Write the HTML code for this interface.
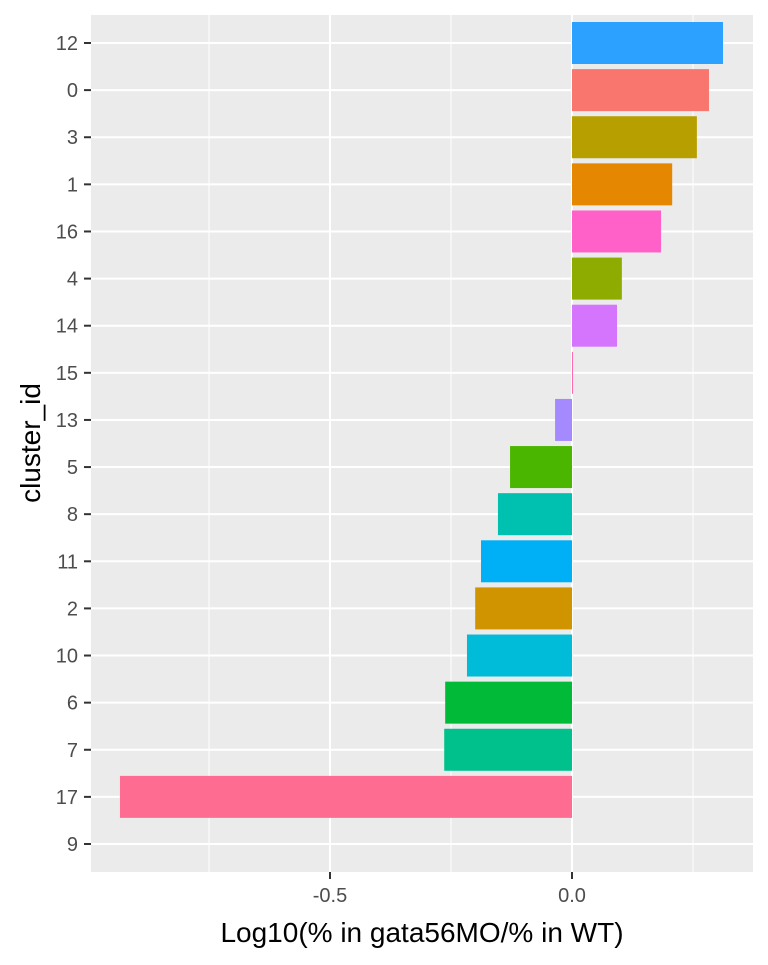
<!DOCTYPE html>
<html><head><meta charset="utf-8"><style>
body{margin:0;background:#fff;font-family:"Liberation Sans",sans-serif}
</style></head><body>
<svg width="768" height="960" xmlns="http://www.w3.org/2000/svg">
<rect x="91" y="15" width="662" height="857" fill="#ebebeb"/>
<g id="grid"></g><g id="bars"></g><g id="axes"></g>
<text x="422" y="942" text-anchor="middle" font-size="28" fill="#000">Log10(% in gata56MO/% in WT)</text>
<text transform="translate(40,443) rotate(-90)" text-anchor="middle" font-size="28" fill="#000">cluster_id</text>
</svg>
<script>
const categories=["12","0","3","1","16","4","14","15","13","5","8","11","2","10","6","7","17","9"];
const values=[0.312,0.283,0.258,0.207,0.184,0.103,0.093,0.002,-0.035,-0.128,-0.153,-0.188,-0.200,-0.217,-0.262,-0.264,-0.934,0];
const colors=["#2CA1FF","#F8766D","#B79F00","#E58700","#FF61C9","#8EAB00","#D575FE","#FF65AC","#A58AFF","#4BB600","#00C0AF","#00B0F6","#CF9400","#00BCD8","#00BA38","#00C08B","#FF6C91","#619CFF"];
const xTicks=[-0.5,0.0];
const xTickLabels=["-0.5","0.0"];
const minorTicks=[-0.75,-0.25,0.25];
const ns="http://www.w3.org/2000/svg";
const x=v=>572+v*484;
const y=i=>43+i*(844-43)/17;
const bh=42;
function mk(tag,attrs,parent){const e=document.createElementNS(ns,tag);for(const k in attrs)e.setAttribute(k,attrs[k]);document.getElementById(parent).appendChild(e);return e;}
minorTicks.forEach(t=>{const l=mk('line',{x1:x(t),x2:x(t),y1:15,y2:872,stroke:'#fff','stroke-width':1},'grid');

});
xTicks.forEach((t,i)=>{const l=mk('line',{x1:x(t),x2:x(t),y1:15,y2:872,stroke:'#fff','stroke-width':2},'grid');


const tk=mk('line',{x1:x(t),x2:x(t),y1:872,y2:879,stroke:'#333','stroke-width':2},'axes');


const tx=mk('text',{x:x(t),y:902,'text-anchor':'middle','font-size':20,fill:'#4d4d4d'},'axes');tx.textContent=xTickLabels[i];

});
categories.forEach((c,i)=>{const g=mk('line',{x1:91,x2:753,y1:y(i),y2:y(i),stroke:'#fff','stroke-width':2},'grid');


const v=values[i];const x0=Math.min(x(0),x(v)),w=Math.abs(x(v)-x(0));
const r=mk('rect',{x:x0,y:y(i)-bh/2,width:w,height:bh,fill:colors[i]},'bars');


const tk=mk('line',{x1:84,x2:91,y1:y(i),y2:y(i),stroke:'#333','stroke-width':2},'axes');


const t=mk('text',{x:78,y:y(i)+7,'text-anchor':'end','font-size':20,fill:'#4d4d4d'},'axes');t.textContent=c;

});
</script>
</body></html>
